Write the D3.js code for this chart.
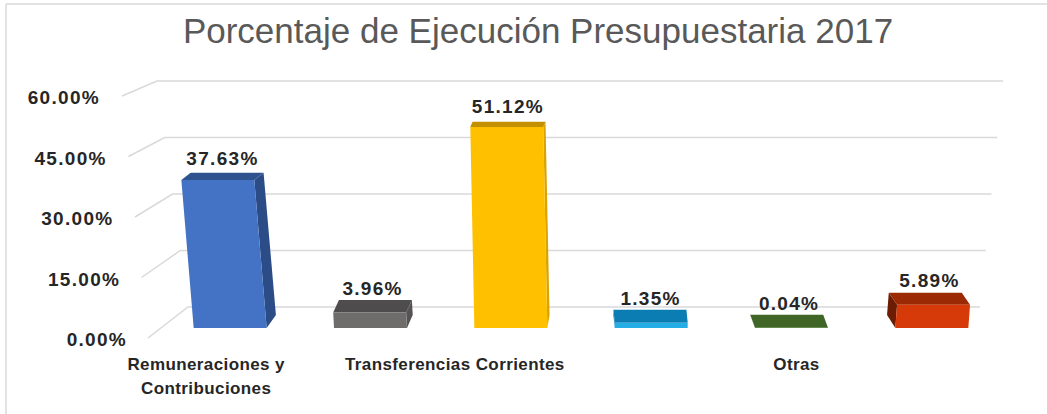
<!DOCTYPE html>
<html>
<head>
<meta charset="utf-8">
<script src="https://cdn.jsdelivr.net/npm/d3@7"></script>
<style>
  html, body { margin: 0; padding: 0; background: #fff; }
  svg { display: block; font-family: "Liberation Sans", Arial, sans-serif; }
</style>
</head>
<body>
<svg width="1047" height="414"></svg>
<script>
// datos
const categories = [
  "Remuneraciones y Contribuciones",
  "Bienes y Servicios",
  "Transferencias Corrientes",
  "Gastos Financieros",
  "Otras",
  "Inversiones"
];
const values = [37.63, 3.96, 51.12, 1.35, 0.04, 5.89];
const tickValues = [0, 15, 30, 45, 60];
const title = "Porcentaje de Ejecución Presupuestaria 2017";

// colores: frente, tapa, lado
const colors = [
  ["#4472C4", "#2F528F", "#2B4C86"],
  ["#6F6C6C", "#4E4C4C", "#555353"],
  ["#FFC000", "#C49000", "#D9A300"],
  ["#25ADE6", "#0B7DB2", "#0B6E9C"],
  ["#507E32", "#3F6627", "#3A5C24"],
  ["#D53A08", "#9B2A04", "#6C1C02"]
];

const svg = d3.select("svg");
const vx = 600; // punto de fuga aprox.

// escalas
const x = d3.scaleBand().domain(categories).range([160, 1002]).paddingInner(0.48).paddingOuter(0.24);
const y = d3.scaleLinear().domain([0, 60]).range([328, 92]);
const yBack = d3.scaleLinear().domain([0, 60]).range([307, 81]);
const yLabel = d3.scaleLinear().domain([0, 60]).range([338, 96]);
const xDiagFront = d3.scaleLinear().domain([0, 60]).range([148, 122]);
const xDiagBack = d3.scaleLinear().domain([0, 60]).range([188, 157]);
const xBackEnd = d3.scaleLinear().domain([0, 60]).range([980, 1003]);
const xLabelEnd = d3.scaleLinear().domain([0, 60]).range([127, 100]);

// borde
svg.append("line").attr("x1", 6).attr("x2", 1047).attr("y1", 4).attr("y2", 4)
  .attr("stroke", "#d9d9d9").attr("stroke-width", 1.5);
svg.append("line").attr("x1", 6).attr("x2", 6).attr("y1", 4).attr("y2", 414)
  .attr("stroke", "#d9d9d9").attr("stroke-width", 1.5);

// titulo
svg.append("text")
  .attr("x", 538).attr("y", 43)
  .attr("text-anchor", "middle")
  .attr("font-size", "35px")
  .attr("fill", "#595959")
  .text(title);

// lineas de cuadricula (pared del fondo + diagonal del piso)
const grid = svg.append("g");
tickValues.forEach((t) => {
  grid.append("polyline")
    .attr("points", [
      [xDiagFront(t), yLabel(t)],
      [xDiagBack(t), yBack(t)],
      [xBackEnd(t), yBack(t)]
    ].join(" "))
    .attr("fill", "none")
    .attr("stroke", "#d9d9d9")
    .attr("stroke-width", 1.5);
});

// etiquetas del eje y
svg.selectAll(".ytick")
  .data(tickValues)
  .enter()
  .append("text")
  .attr("class", "ytick")
  .attr("x", (d) => xLabelEnd(d))
  .attr("y", (d) => yLabel(d) + 8)
  .attr("text-anchor", "end")
  .attr("font-size", "19px")
  .attr("letter-spacing", "1.3px")
  .attr("font-weight", "bold")
  .attr("fill", "#262626")
  .text((d) => d.toFixed(2) + "%");

// geometria de cada barra 3D
function barGeom(d, i) {
  const cat = categories[i];
  const bw = x.bandwidth();
  const cx = x(cat) + bw / 2;
  const yb = y(0);
  const yt = y(d);
  const h = yb - yt;
  const lean = (cx - vx) * 0.000225 * h;
  const dx = -0.025 * (cx - vx);
  const dyT = -0.04 * yt;
  const dyB = -0.04 * yb;
  const BL = [cx - bw / 2, yb], BR = [cx + bw / 2, yb];
  const TL = [cx - bw / 2 + lean, yt], TR = [cx + bw / 2 + lean, yt];
  const TLb = [TL[0] + dx, yt + dyT], TRb = [TR[0] + dx, yt + dyT];
  const BLb = [BL[0] + dx, yb + dyB], BRb = [BR[0] + dx, yb + dyB];
  const front = [BL, BR, TR, TL];
  const top = [TL, TR, TRb, TLb];
  const side = dx > 0 ? [TR, TRb, BRb, BR] : [TL, TLb, BLb, BL];
  return {
    labelX: cx + lean + dx / 2,
    labelY: yt + dyT - (5 + h * 0.018),
    front, top, side
  };
}

const bars = svg.selectAll(".bar")
  .data(values)
  .enter()
  .append("g")
  .attr("class", "bar");

bars.append("polygon")
  .attr("points", (d, i) => barGeom(d, i).side.join(" "))
  .attr("fill", (d, i) => colors[i][2]);
bars.append("polygon")
  .attr("points", (d, i) => barGeom(d, i).top.join(" "))
  .attr("fill", (d, i) => colors[i][1]);
bars.append("polygon")
  .attr("points", (d, i) => barGeom(d, i).front.join(" "))
  .attr("fill", (d, i) => colors[i][0]);

// etiquetas de datos
svg.selectAll(".dlabel")
  .data(values)
  .enter()
  .append("text")
  .attr("class", "dlabel")
  .attr("x", (d, i) => barGeom(d, i).labelX)
  .attr("y", (d, i) => barGeom(d, i).labelY)
  .attr("text-anchor", "middle")
  .attr("font-size", "19px")
  .attr("letter-spacing", "1.3px")
  .attr("font-weight", "bold")
  .attr("fill", "#262626")
  .text((d) => d.toFixed(2) + "%");

// etiquetas de categorias (Excel muestra una de cada dos, en el borde del piso)
const catLines = {
  "Remuneraciones y Contribuciones": ["Remuneraciones y", "Contribuciones"]
};
const floorShift = { 0: -24, 2: -56, 4: 5 };
const xl = svg.selectAll(".xlabel")
  .data(categories.filter((c, i) => i % 2 === 0))
  .enter()
  .append("text")
  .attr("class", "xlabel")
  .attr("x", (d) => x(d) + x.bandwidth() / 2 + floorShift[categories.indexOf(d)])
  .attr("y", 370)
  .attr("text-anchor", "middle")
  .attr("font-size", "17px")
  .attr("letter-spacing", "0.4px")
  .attr("font-weight", "bold")
  .attr("fill", "#262626");
xl.selectAll("tspan")
  .data((d) => catLines[d] || [d])
  .enter()
  .append("tspan")
  .attr("x", function () { return d3.select(this.parentNode).attr("x"); })
  .attr("dy", (d, i) => (i === 0 ? 0 : 24))
  .text((d) => d);
</script>
</body>
</html>
